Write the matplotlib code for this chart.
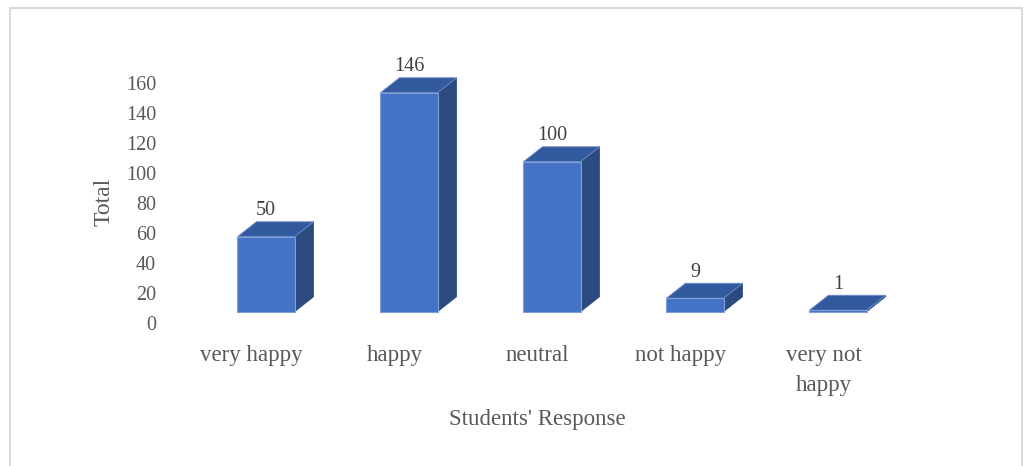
import matplotlib
matplotlib.use("Agg")
import matplotlib.pyplot as plt
from matplotlib.patches import Polygon, Rectangle

# Survey data
categories = ["very happy", "happy", "neutral", "not happy", "very not\nhappy"]
totals = [50, 146, 100, 9, 1]
y_ticks = [0, 20, 40, 60, 80, 100, 120, 140, 160]

# Styling
FRONT = "#4472C4"
TOP = "#33599E"
SIDE = "#2A4A80"
TEXT = "#595959"
LABEL = "#404040"
FONT = ["Liberation Serif", "DejaVu Serif"]
plt.rcParams["font.family"] = FONT

W, H = 1024, 466
fig = plt.figure(figsize=(W / 100, H / 100), dpi=100)

# Axes placed in pixel terms: category i centred at 266 + 143*i px,
# value v at 323 - 1.5*v px (from the top).
x0, x1 = -0.74, 4.9
y0, y1 = -20, 175
left_px = 266 + 143 * x0
right_px = 266 + 143 * x1
top_px = 323 - 1.5 * y1
bot_px = 323 - 1.5 * y0
ax = fig.add_axes([left_px / W, 1 - bot_px / H,
                   (right_px - left_px) / W, (bot_px - top_px) / H])
ax.set_xlim(x0, x1)
ax.set_ylim(y0, y1)
for s in ax.spines.values():
    s.set_visible(False)
ax.set_xticks([])
ax.set_yticks(y_ticks)
ax.tick_params(axis="y", length=0, pad=3, labelsize=14.5, labelcolor=TEXT)

# 3D-look columns: front face, side face and top face
bar_w = 0.4
base = 7.5      # floor offset of the front faces
dx = 0.133      # depth in x units
dy = 10         # depth in value units
for i, v in enumerate(totals):
    xl, xr = i - bar_w / 2, i + bar_w / 2
    yb, yt = base, base + v
    side = Polygon([(xr, yb), (xr + dx, yb + dy), (xr + dx, yt + dy), (xr, yt)],
                   closed=True, facecolor=SIDE, edgecolor=SIDE, lw=0.5)
    top = Polygon([(xl, yt), (xr, yt), (xr + dx, yt + dy), (xl + dx, yt + dy)],
                  closed=True, facecolor=TOP, edgecolor="#6F8FCB", lw=0.6)
    front = Rectangle((xl, yb), bar_w, v, facecolor=FRONT,
                      edgecolor="#7F9FDB", lw=0.8)
    ax.add_patch(side)
    ax.add_patch(top)
    ax.add_patch(front)
    ax.text(i, yt + dy + 1, f"{v}", ha="center", va="bottom",
            fontsize=14.5, color=LABEL)

# Category labels
for i, c in enumerate(categories):
    ax.text(i - 0.1, -14.5, c, ha="center", va="top", fontsize=16.5,
            color=TEXT, linespacing=1.6)

# Axis titles
fig.text(537 / W, 1 - 420 / H, "Students' Response", ha="center",
         va="center", fontsize=16.5, color=TEXT)
fig.text(104 / W, 1 - 202 / H, "Total", ha="center", va="center",
         rotation=90, fontsize=17, color=TEXT)

# Chart area border
fig.add_artist(Rectangle((9.5 / W, -0.05), 1012.5 / W, 1.05 - 7.5 / H,
                         transform=fig.transFigure, fill=False,
                         edgecolor="#D9D9D9", lw=1.5))

fig.savefig("out.png", dpi=100, facecolor="white")
